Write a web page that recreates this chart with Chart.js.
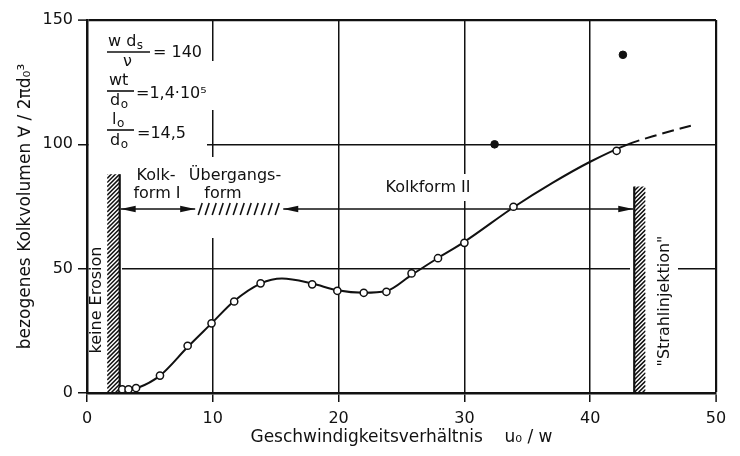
<!DOCTYPE html>
<html>
<head>
<meta charset="utf-8">
<script src="https://cdn.jsdelivr.net/npm/chart.js@4/dist/chart.umd.min.js"></script>
<style>
  html, body { margin: 0; background: #fff; }
</style>
</head>
<body>
<canvas id="kolk" width="740" height="456"></canvas>
<script>
// Messpunkte (offene Kreise) und Einzelwerte (gefüllt)
const uMess = [2.8, 3.3, 3.9, 5.8, 8.0, 9.9, 11.7, 13.8, 17.9, 19.9, 22.0, 23.8, 25.8, 27.9, 30.0, 33.9, 42.1];
const vMess = [1.5, 1.5, 2, 7, 19, 28, 36.8, 44.1, 43.7, 41.1, 40.3, 40.7, 48.1, 54.2, 60.4, 74.9, 97.4];
const uVoll = [32.4, 42.6];
const vVoll = [100, 136];

// Ausgleichskurve, ab uDash gestrichelt
const uKurve = [2.5, 4, 5.8, 8, 9.9, 11.7, 13.8, 15.5, 17.9, 19.9, 22, 23.8, 25.8, 27.9, 30, 34, 37, 40, 43, 45.5, 48];
const vKurve = [0.5, 2, 7, 18.5, 28, 37, 44, 46, 44, 41.3, 40.3, 41, 47.5, 54.3, 60.8, 75, 84.5, 93, 100, 104, 107.5];
const uDash = 43;

const xTicks = [0, 10, 20, 30, 40, 50];
const yTicks = [0, 50, 100, 150];

// Bereichsgrenzen (u0/w) und Pfeilhöhe
const wandLinks  = [1.6, 2.6, 88];   // von, bis, Höhe
const wandRechts = [43.5, 44.4, 83];
const pfeilY = 74;
const grenzeI = 8.6;     // Ende Kolkform I
const grenzeU = 15.6;    // Ende Übergangsform

const FONT = "'DejaVu Sans', sans-serif";
const INK = '#111';

function hatch(ctx, x0, y0, x1, y1, step) {
  ctx.save();
  ctx.beginPath(); ctx.rect(x0, y0, x1 - x0, y1 - y0); ctx.clip();
  ctx.beginPath();
  const w = x1 - x0;
  for (let k = y0 - w; k < y1 + w; k += step) {
    ctx.moveTo(x0, k + w); ctx.lineTo(x1, k);
  }
  ctx.lineWidth = 1.5; ctx.strokeStyle = INK; ctx.stroke();
  ctx.restore();
}

function head(ctx, xt, yy, dir) {
  ctx.beginPath();
  ctx.moveTo(xt, yy);
  ctx.lineTo(xt + dir * 15, yy - 3.2);
  ctx.lineTo(xt + dir * 15, yy + 3.2);
  ctx.closePath(); ctx.fill();
}

function arrow2(ctx, xa, xb, yy) {
  ctx.beginPath(); ctx.moveTo(xa, yy); ctx.lineTo(xb, yy);
  ctx.lineWidth = 1.5; ctx.stroke();
  head(ctx, xa, yy, 1);
  head(ctx, xb, yy, -1);
}

function sub(ctx, base, s, x, y, size) {
  ctx.font = size + 'px ' + FONT;
  ctx.fillText(base, x, y);
  const w = ctx.measureText(base).width;
  ctx.font = Math.round(size * 0.72) + 'px ' + FONT;
  ctx.fillText(s, x + w + 0.5, y + 4);
  return w + ctx.measureText(s).width + 0.5;
}

const extras = {
  id: 'extras',
  beforeDatasetsDraw(chart) {
    const { ctx, scales: { x, y } } = chart;
    const px = v => x.getPixelForValue(v);
    const py = v => y.getPixelForValue(v);
    ctx.save();

    // Lücken im Gitter hinter Beschriftungen
    ctx.fillStyle = '#fff';
    [[89, 22, 205, 60], [89, 61, 214, 110], [89, 110, 207, 157],
     [185, 157, 290, 238], [89, 160, 122, 391], [630, 170, 678, 391],
     [380, 174, 476, 201]].forEach(([a, b, c, d]) => ctx.fillRect(a, b, c - a, d - b));

    ctx.fillStyle = INK; ctx.strokeStyle = INK;

    // schraffierte Grenzen
    const y0 = py(0);
    let [a, b, h] = wandLinks;
    hatch(ctx, px(a), py(h), px(b), y0, 4.2);
    ctx.beginPath(); ctx.moveTo(px(b), py(h)); ctx.lineTo(px(b), y0);
    ctx.lineWidth = 2.2; ctx.stroke();
    [a, b, h] = wandRechts;
    hatch(ctx, px(a), py(h), px(b), y0, 4.2);
    ctx.beginPath(); ctx.moveTo(px(a), py(h)); ctx.lineTo(px(a), y0);
    ctx.lineWidth = 2.2; ctx.stroke();

    // Pfeile
    const ay = py(pfeilY);
    arrow2(ctx, px(wandLinks[1]) + 1, px(grenzeI), ay);
    arrow2(ctx, px(grenzeU), px(wandRechts[0]) - 1, ay);
    ctx.beginPath();
    for (let xs = px(grenzeI) + 3; xs < px(grenzeU) - 3; xs += 7) {
      ctx.moveTo(xs, ay + 6); ctx.lineTo(xs + 4, ay - 6);
    }
    ctx.lineWidth = 1.6; ctx.stroke();

    // Bereichstexte
    ctx.textAlign = 'center'; ctx.textBaseline = 'middle';
    ctx.font = '16px ' + FONT;
    ctx.fillText('Kolk-', 156, 176);
    ctx.fillText('form I', 157, 194);
    ctx.fillText('Übergangs-', 235, 176);
    ctx.fillText('form', 223, 194);
    ctx.fillText('Kolkform II', 428, 188);

    ctx.save();
    ctx.translate(97, 300); ctx.rotate(-Math.PI / 2);
    ctx.fillText('keine Erosion', 0, 0);
    ctx.restore();
    ctx.save();
    ctx.translate(665, 301); ctx.rotate(-Math.PI / 2);
    ctx.fillText('"Strahlinjektion"', 0, 0);
    ctx.restore();

    // Kennzahlen
    ctx.textAlign = 'left';
    const fs = 16;
    ctx.lineWidth = 1.6;
    sub(ctx, 'w d', 's', 108, 42, fs);
    ctx.beginPath(); ctx.moveTo(107, 52); ctx.lineTo(150, 52); ctx.stroke();
    ctx.font = fs + 'px ' + FONT;
    ctx.fillText('ν', 123, 62);
    ctx.fillText('= 140', 153, 53);

    ctx.fillText('wt', 109, 81);
    ctx.beginPath(); ctx.moveTo(107, 91); ctx.lineTo(134, 91); ctx.stroke();
    sub(ctx, 'd', 'o', 110, 101, fs);
    ctx.font = fs + 'px ' + FONT;
    ctx.fillText('=1,4·10⁵', 136, 94);

    sub(ctx, 'l', 'o', 112, 120, fs);
    ctx.beginPath(); ctx.moveTo(107, 130); ctx.lineTo(134, 130); ctx.stroke();
    sub(ctx, 'd', 'o', 110, 141, fs);
    ctx.font = fs + 'px ' + FONT;
    ctx.fillText('=14,5', 137, 134);

    ctx.restore();
  }
};

const edgeWidth = (ctx, max) => (ctx.tick && ctx.tick.value === max ? 2.2 : 1.5);

new Chart(document.getElementById('kolk'), {
  type: 'scatter',
  data: {
    datasets: [
      {
        data: uMess.map((u, i) => ({ x: u, y: vMess[i] })),
        showLine: false, pointRadius: 3.6, pointBorderWidth: 1.5,
        pointBackgroundColor: '#fff', pointBorderColor: INK, order: 0,
      },
      {
        data: uVoll.map((u, i) => ({ x: u, y: vVoll[i] })),
        showLine: false, pointRadius: 3.8, pointBorderWidth: 1,
        pointBackgroundColor: INK, pointBorderColor: INK, order: 0,
      },
      {
        data: uKurve.map((u, i) => ({ x: u, y: vKurve[i] })),
        showLine: true, pointRadius: 0, borderColor: INK, borderWidth: 2,
        cubicInterpolationMode: 'monotone', order: 2,
        segment: { borderDash: c => (c.p0.parsed.x >= uDash ? [12, 6] : undefined) },
      },
    ],
  },
  options: {
    responsive: false,
    animation: false,
    devicePixelRatio: 1,
    layout: { padding: { left: 0, top: 20, right: 24, bottom: 0 } },
    plugins: { legend: { display: false }, tooltip: { enabled: false } },
    scales: {
      x: {
        type: 'linear', min: 0, max: 50,
        afterFit: s => { s.height = 63; },
        afterBuildTicks: s => { s.ticks = xTicks.map(v => ({ value: v })); },
        ticks: { color: INK, font: { family: FONT, size: 16 }, padding: 7, maxRotation: 0 },
        grid: { color: INK, lineWidth: c => edgeWidth(c, 50), tickLength: 9, tickWidth: 1.5, tickColor: INK },
        border: { color: INK, width: 2.5 },
        title: {
          display: true, text: 'Geschwindigkeitsverhältnis    u₀ / w', color: INK,
          font: { family: FONT, size: 17 }, padding: { top: 0, bottom: 8 },
        },
      },
      y: {
        min: 0, max: 150,
        afterFit: s => { s.width = 87; },
        afterBuildTicks: s => { s.ticks = yTicks.map(v => ({ value: v })); },
        ticks: { color: INK, font: { family: FONT, size: 16 }, padding: 5 },
        grid: { color: INK, lineWidth: c => edgeWidth(c, 150), tickLength: 9, tickWidth: 1.5, tickColor: INK },
        border: { color: INK, width: 2.5 },
        title: {
          display: true, text: 'bezogenes Kolkvolumen ∀ / 2πd₀³', color: INK,
          font: { family: FONT, size: 17 }, padding: { top: 15, bottom: 0 },
        },
      },
    },
  },
  plugins: [extras],
});
</script>
</body>
</html>
